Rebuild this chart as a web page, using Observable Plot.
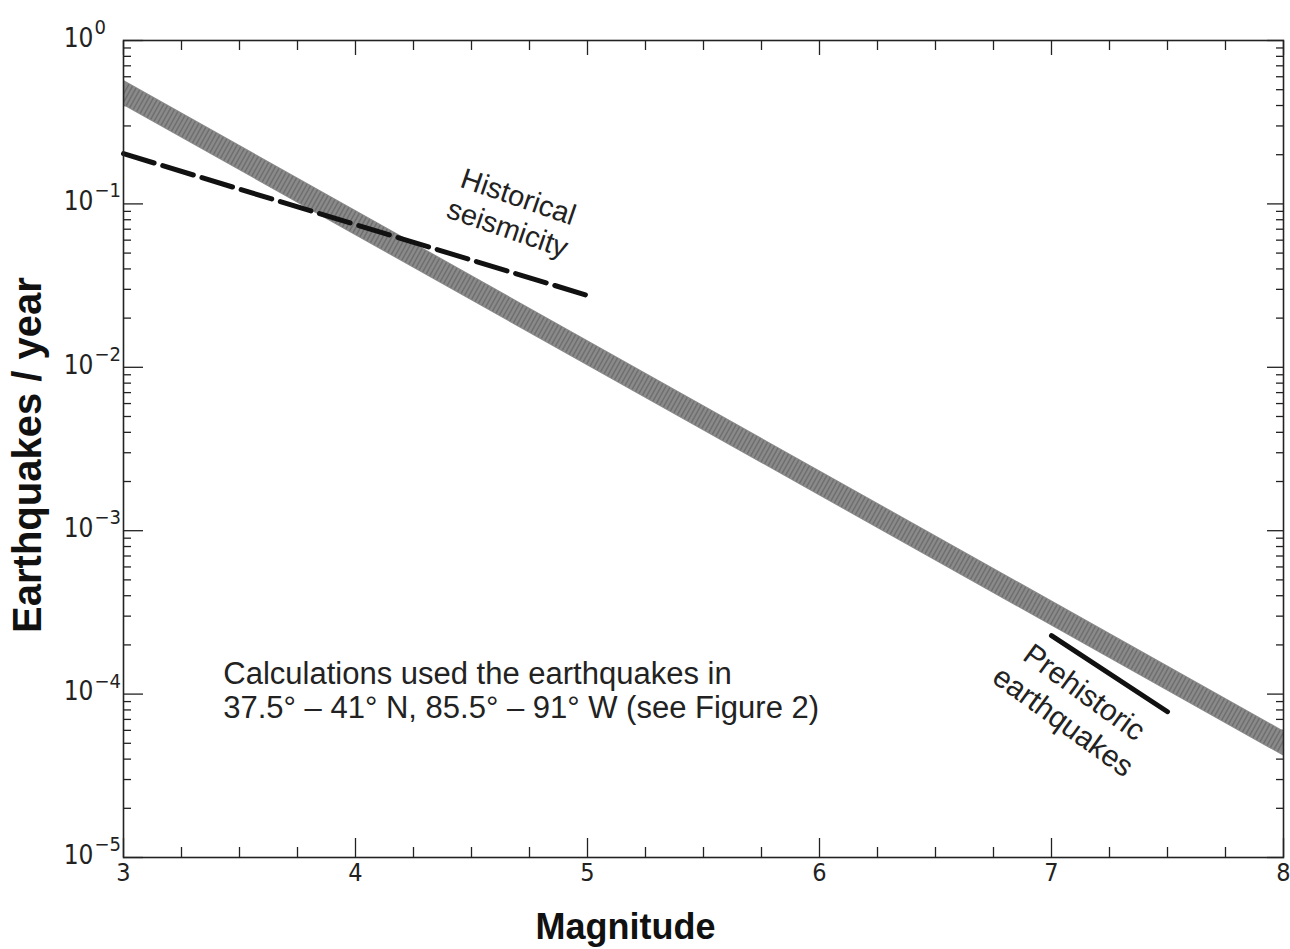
<!DOCTYPE html>
<html><head><meta charset="utf-8">
<script src="https://cdn.jsdelivr.net/npm/d3@7"></script>
<script src="https://cdn.jsdelivr.net/npm/@observablehq/plot@0.6"></script>
<style>body{margin:0;background:#fff;}</style>
</head><body><div id="chart"></div>
<script>
// Data
const bandMagnitudes = [3, 8];
const bandRates = [0.48, 5.0e-5];
const historicalMagnitudes = [3, 5];
const historicalRates = [0.203, 0.0275];
const prehistoricMagnitudes = [7.0, 7.5];
const prehistoricRates = [2.28e-4, 7.8e-5];

const xMajorTicks = [3, 4, 5, 6, 7, 8];
const xMinorTicks = [3.25, 3.5, 3.75, 4.25, 4.5, 4.75, 5.25, 5.5, 5.75, 6.25, 6.5, 6.75, 7.25, 7.5, 7.75];
const yMajorTicks = [1e-5, 1e-4, 1e-3, 1e-2, 1e-1, 1];
const yExponents = ["\u22125", "\u22124", "\u22123", "\u22122", "\u22121", "0"];
const yMantissas = [2, 3, 4, 5, 6, 7, 8, 9];
const yMinorTicks = yMajorTicks.slice(0, -1).flatMap(d => yMantissas.map(m => m * d));

const annotationText = "Calculations used the earthquakes in\n37.5° \u2013 41° N, 85.5° \u2013 91° W (see Figure 2)";
const historicalLabel = "Historical\nseismicity";
const prehistoricLabel = "Prehistoric\nearthquakes";
const xTitle = "Magnitude";
const yTitle = "Earthquakes / year";

const band = bandMagnitudes.map((m, i) => ({m, r: bandRates[i]}));
const historical = historicalMagnitudes.map((m, i) => ({m, r: historicalRates[i]}));
const prehistoric = prehistoricMagnitudes.map((m, i) => ({m, r: prehistoricRates[i]}));
const yLabels = yMajorTicks.map((v, i) => ({v, e: yExponents[i]}));

const tickFont = "'Liberation Sans Narrow', 'DejaVu Sans Condensed', 'Arial Narrow', sans-serif";
const textFont = "'Liberation Sans', Arial, Helvetica, sans-serif";
const ink = "#222";

const chart = Plot.plot({
  width: 1290,
  height: 949,
  marginLeft: 123,
  marginRight: 7,
  marginTop: 40,
  marginBottom: 92,
  style: {fontFamily: textFont, color: ink, background: "#fff"},
  x: {domain: [3, 8]},
  y: {type: "log", domain: [1e-5, 1]},
  marks: [
    // inward ticks
    Plot.axisX(xMajorTicks, {anchor: "bottom", tickSize: -19, tickFormat: () => "", label: null, stroke: ink, strokeWidth: 1.3}),
    Plot.axisX(xMinorTicks, {anchor: "bottom", tickSize: -10, tickFormat: () => "", label: null, stroke: ink, strokeWidth: 1.3}),
    Plot.axisX(xMajorTicks, {anchor: "top", tickSize: -14, tickFormat: () => "", label: null, stroke: ink, strokeWidth: 1.3}),
    Plot.axisX(xMinorTicks, {anchor: "top", tickSize: -9, tickFormat: () => "", label: null, stroke: ink, strokeWidth: 1.3}),
    Plot.axisY(yMajorTicks, {anchor: "left", tickSize: -20, tickFormat: () => "", label: null, stroke: ink, strokeWidth: 1.3}),
    Plot.axisY(yMinorTicks, {anchor: "left", tickSize: -8, tickFormat: () => "", label: null, stroke: ink, strokeWidth: 1.3}),
    Plot.axisY(yMajorTicks, {anchor: "right", tickSize: -17, tickFormat: () => "", label: null, stroke: ink, strokeWidth: 1.3}),
    Plot.axisY(yMinorTicks, {anchor: "right", tickSize: -8, tickFormat: () => "", label: null, stroke: ink, strokeWidth: 1.3}),
    // x tick labels
    Plot.axisX(xMajorTicks, {anchor: "bottom", tickSize: 0, tickPadding: 6, label: null, fontSize: 25, fontFamily: tickFont, fill: ink, tickFormat: d => String(d)}),
    // y tick labels 10^n
    Plot.text(yLabels, {y: "v", text: () => "10", frameAnchor: "left", textAnchor: "end", dx: -30, dy: -2, fontSize: 26, fontFamily: tickFont, fill: ink}),
    Plot.text(yLabels, {y: "v", text: "e", frameAnchor: "left", textAnchor: "start", dx: -29, dy: -13, fontSize: 20, fontFamily: tickFont, fill: ink}),
    // data
    Plot.line(band, {x: "m", y: "r", stroke: "#8a8a8a", strokeWidth: 22, strokeLinecap: "square", clip: true}),
    Plot.line(band, {x: "m", y: "r", stroke: "#333", strokeWidth: 20, strokeOpacity: 0.3, strokeDasharray: "1.5 2.5", strokeLinecap: "butt", clip: true}),
    Plot.line(historical, {x: "m", y: "r", stroke: "#111", strokeWidth: 5, strokeDasharray: "32 9"}),
    Plot.line(prehistoric, {x: "m", y: "r", stroke: "#111", strokeWidth: 5, strokeLinecap: "round"}),
    // annotations
    Plot.text([historicalLabel], {x: 4.68, y: 0.0898, text: d => d, rotate: 19, fontSize: 29, lineHeight: 1.15, fill: ink, textAnchor: "middle", lineAnchor: "middle"}),
    Plot.text([prehistoricLabel], {x: 7.1, y: 8.5e-5, text: d => d, rotate: 36, fontSize: 30, lineHeight: 1.2, fill: ink, textAnchor: "middle", lineAnchor: "middle"}),
    Plot.text([annotationText], {x: 3.43, y: 1.62e-4, text: d => d, fontSize: 31, lineHeight: 1.1, fill: ink, textAnchor: "start", lineAnchor: "top"}),
    // axis titles
    Plot.text([xTitle], {frameAnchor: "bottom", dx: -78, dy: 70, text: d => d, fontSize: 36, fontWeight: "bold", fill: "#111", textAnchor: "middle", lineAnchor: "middle"}),
    Plot.text([yTitle], {frameAnchor: "left", dx: -95, dy: 6, rotate: -90, text: d => d, fontSize: 40, fontWeight: "bold", fill: "#111", textAnchor: "middle", lineAnchor: "middle"}),
    Plot.frame({stroke: ink, strokeWidth: 1.6})
  ]
});
document.getElementById("chart").appendChild(chart);
</script>
</body></html>
